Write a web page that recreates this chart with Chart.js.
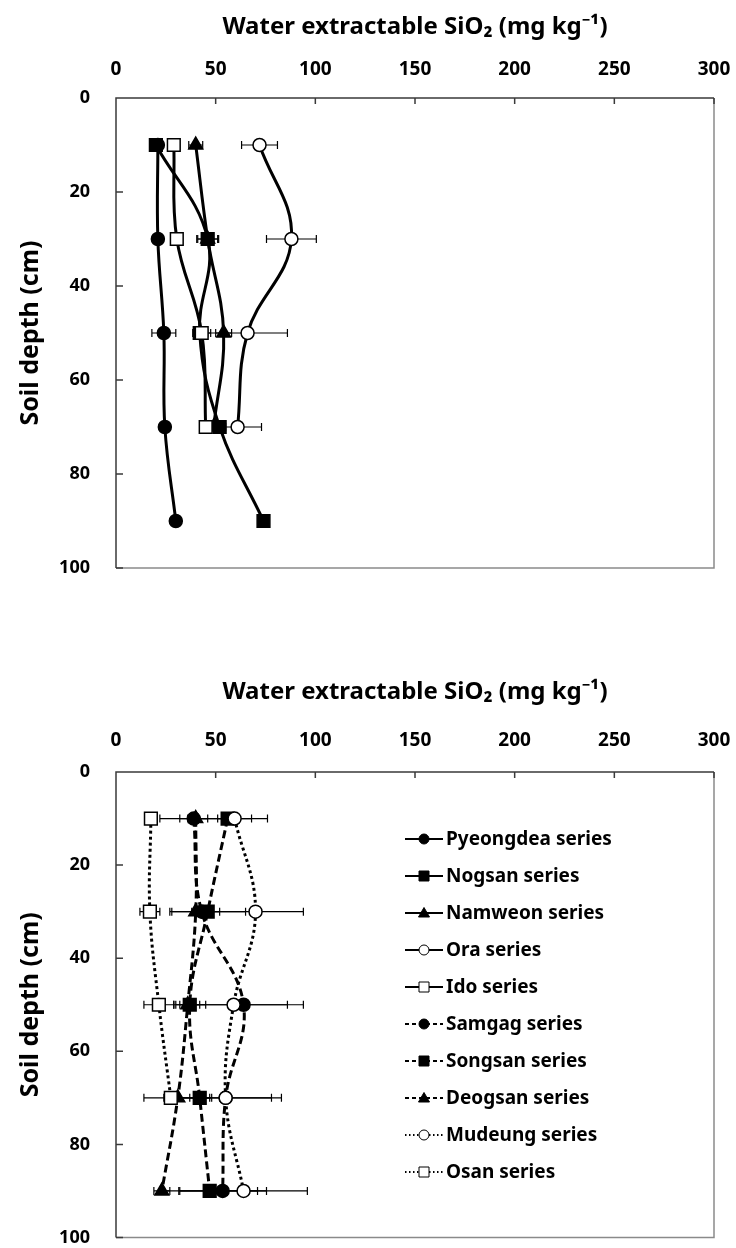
<!DOCTYPE html>
<html>
<head>
<meta charset="utf-8">
<title>Water extractable SiO2 by soil depth</title>
<script src="https://cdn.jsdelivr.net/npm/chart.js@4.4.1/dist/chart.umd.min.js"></script>
<style>
	html, body { margin: 0; padding: 0; background: #fff; }
	#wrap { position: relative; width: 736px; height: 1248px; overflow: hidden; }
	#topChart { position: absolute; left: 0; top: 0; }
	#bottomChart { position: absolute; left: 0; top: 674px; }
</style>
</head>
<body>
<div id="wrap">
	<canvas id="topChart" width="736" height="600"></canvas>
	<canvas id="bottomChart" width="736" height="574"></canvas>
</div>
<script>
// depths (cm) of the sampled layers, and axis ticks
var depths = [10, 30, 50, 70, 90];
var xTicks = [0, 50, 100, 150, 200, 250, 300];
var yTicks = [0, 20, 40, 60, 80, 100];
var xTitle = 'Water extractable SiO\u2082 (mg kg\u207B\u00B9)';
var yTitle = 'Soil depth (cm)';

// upper panel, mg/kg, with +/- error
var pyeongdea = [21, 21, 24, 24.5, 30];
var pyeongdeaErr = [2, 2, 6, 2, 2];
var nogsan = [20, 46, 42, 52, 74];
var nogsanErr = [2, 5.5, 3, 3, 2];
var namweon = [40, 46, 54, 49];
var namweonErr = [3.5, 5, 4, 3];
var ora = [72, 88, 66, 61];
var oraErr = [9, 12.5, 20, 12];
var ido = [29, 30.5, 43, 45];
var idoErr = [2, 2, 4.5, 3];

// lower panel
var samgag = [39, 43, 64, 55, 53.5];
var samgagErr = [7, 5, 30, 28, 22];
var songsan = [56, 46, 37, 42, 47];
var songsanErr = [20, 19, 8, 5, 24];
var deogsan = [40, 40, 36, 31, 23];
var deogsanErr = [18, 12, 6, 17, 4];
var mudeung = [59.5, 70, 59, 55, 64];
var mudeungErr = [8.5, 24, 27, 23, 32];
var osan = [17.5, 17, 21.5, 27.5];
var osanErr = [3, 5, 7.5, 3.5];

var FONT = "'Noto Sans', 'Open Sans', sans-serif";

function toPoints(values) {
	return values.map(function (v, i) {
		return {x: v, y: depths[i]};
	});
}

// marker/line look of each series
function series(label, values, errors, marker, filled, dash) {
	var r = marker === 'rect' ? 9 : (marker === 'triangle' ? 8 : 6.5);
	return {
		label: label,
		data: values ? toPoints(values) : [],
		errors: errors || [],
		showLine: true,
		tension: 0.4,
		borderColor: '#000',
		borderWidth: 3,
		borderDash: dash || [],
		pointStyle: marker,
		pointRadius: r,
		pointBorderWidth: 1.5,
		pointBorderColor: '#000',
		pointBackgroundColor: filled ? '#000' : '#fff',
		marker: marker,
		filled: filled
	};
}

var DASH = [8, 4];
var DOT = [3, 3];

var topSets = [
	series('Pyeongdea series', pyeongdea, pyeongdeaErr, 'circle', true),
	series('Nogsan series', nogsan, nogsanErr, 'rect', true),
	series('Namweon series', namweon, namweonErr, 'triangle', true),
	series('Ora series', ora, oraErr, 'circle', false),
	series('Ido series', ido, idoErr, 'rect', false)
];

var bottomSets = [
	series('Pyeongdea series', null, null, 'circle', true),
	series('Nogsan series', null, null, 'rect', true),
	series('Namweon series', null, null, 'triangle', true),
	series('Ora series', null, null, 'circle', false),
	series('Ido series', null, null, 'rect', false),
	series('Samgag series', samgag, samgagErr, 'circle', true, DASH),
	series('Songsan series', songsan, songsanErr, 'rect', true, DASH),
	series('Deogsan series', deogsan, deogsanErr, 'triangle', true, DASH),
	series('Mudeung series', mudeung, mudeungErr, 'circle', false, DOT),
	series('Osan series', osan, osanErr, 'rect', false, DOT)
];

// later series on top, as in the spreadsheet
[topSets, bottomSets].forEach(function (sets) {
	sets.forEach(function (ds, i) { ds.order = -i; });
});

// frame round the plot and the small inner ticks
var framePlugin = {
	id: 'frame',
	beforeDatasetsDraw: function (chart) {
		var ctx = chart.ctx, a = chart.chartArea;
		var xs = chart.scales.x, ys = chart.scales.y;
		ctx.save();
		ctx.lineWidth = 1.5;
		ctx.strokeStyle = '#8a8a8a';
		ctx.beginPath();
		ctx.moveTo(a.right, a.top);
		ctx.lineTo(a.right, a.bottom);
		ctx.lineTo(a.left, a.bottom);
		ctx.stroke();
		ctx.strokeStyle = '#3a3a3a';
		ctx.beginPath();
		ctx.moveTo(a.left, a.bottom);
		ctx.lineTo(a.left, a.top);
		ctx.lineTo(a.right, a.top);
		xTicks.forEach(function (v) {
			var px = xs.getPixelForValue(v);
			ctx.moveTo(px, a.top);
			ctx.lineTo(px, a.top + 6);
		});
		yTicks.forEach(function (v) {
			var py = ys.getPixelForValue(v);
			ctx.moveTo(a.left, py);
			ctx.lineTo(a.left + 7, py);
		});
		ctx.stroke();
		ctx.restore();
	}
};

// horizontal error bars, drawn under the lines and markers
var errorBarPlugin = {
	id: 'errorBars',
	beforeDatasetsDraw: function (chart) {
		var ctx = chart.ctx, xs = chart.scales.x, ys = chart.scales.y;
		ctx.save();
		ctx.strokeStyle = '#000';
		ctx.lineWidth = 1.2;
		chart.data.datasets.forEach(function (ds) {
			ds.data.forEach(function (p, i) {
				var e = ds.errors[i];
				if (!e) return;
				var y = ys.getPixelForValue(p.y);
				var x0 = xs.getPixelForValue(p.x - e);
				var x1 = xs.getPixelForValue(p.x + e);
				ctx.beginPath();
				ctx.moveTo(x0, y);
				ctx.lineTo(x1, y);
				ctx.moveTo(x0, y - 4);
				ctx.lineTo(x0, y + 4);
				ctx.moveTo(x1, y - 4);
				ctx.lineTo(x1, y + 4);
				ctx.stroke();
			});
		});
		ctx.restore();
	}
};

function drawMarker(ctx, marker, filled, x, y, r) {
	ctx.beginPath();
	if (marker === 'circle') {
		ctx.arc(x, y, r, 0, Math.PI * 2);
	} else if (marker === 'rect') {
		ctx.rect(x - r, y - r, r * 2, r * 2);
	} else {
		ctx.moveTo(x, y - r * 1.1);
		ctx.lineTo(x + r * 1.1, y + r * 0.8);
		ctx.lineTo(x - r * 1.1, y + r * 0.8);
		ctx.closePath();
	}
	ctx.fillStyle = filled ? '#000' : '#fff';
	ctx.fill();
	ctx.lineWidth = 1;
	ctx.strokeStyle = '#000';
	ctx.stroke();
}

// legend sitting inside the lower plot
var insideLegendPlugin = {
	id: 'insideLegend',
	afterDraw: function (chart, args, opts) {
		if (!opts.show) return;
		var ctx = chart.ctx;
		ctx.save();
		ctx.font = 'bold 19px ' + FONT;
		ctx.textBaseline = 'middle';
		chart.data.datasets.forEach(function (ds, i) {
			var y = opts.top + i * opts.rowGap;
			var x = opts.left;
			ctx.strokeStyle = '#000';
			ctx.lineWidth = 2;
			ctx.setLineDash(ds.borderDash.length ? [ds.borderDash[0] / 2, ds.borderDash[1] / 2 + 1] : []);
			ctx.beginPath();
			ctx.moveTo(x, y);
			ctx.lineTo(x + opts.sample, y);
			ctx.stroke();
			ctx.setLineDash([]);
			drawMarker(ctx, ds.marker, ds.filled, x + opts.sample / 2, y, 5);
			ctx.fillStyle = '#000';
			ctx.fillText(ds.label, x + opts.sample + 3, y + 1);
		});
		ctx.restore();
	}
};

function makeChart(canvasId, datasets, cfg) {
	return new Chart(document.getElementById(canvasId), {
		type: 'scatter',
		data: {datasets: datasets},
		options: {
			responsive: false,
			animation: false,
			events: [],
			layout: {padding: {left: 0, right: 22, top: 0, bottom: cfg.bottomPad}},
			plugins: {
				legend: {display: false},
				tooltip: {enabled: false},
				insideLegend: cfg.legend
			},
			scales: {
				x: {
					type: 'linear',
					position: 'top',
					min: 0,
					max: 300,
					ticks: {stepSize: 50, color: '#000', padding: cfg.tickPad, font: {family: FONT, size: 19, weight: 'bold'}},
					grid: {display: false, drawTicks: false},
					border: {display: false},
					title: {display: true, text: xTitle, color: '#000', padding: {top: cfg.titlePad, bottom: 0}, font: {family: FONT, size: 24, weight: 'bold'}},
					afterFit: function (scale) {
						scale.height = 98;
						scale.paddingLeft = 0;
						scale.paddingRight = 0;
					}
				},
				y: {
					type: 'linear',
					reverse: true,
					min: 0,
					max: 100,
					ticks: {stepSize: 20, color: '#000', padding: 26, font: {family: FONT, size: 18, weight: 'bold'}},
					grid: {display: false, drawTicks: false},
					border: {display: false},
					title: {display: true, text: yTitle, color: '#000', padding: {top: 16, bottom: 0}, font: {family: FONT, size: 25, weight: 'bold'}},
					afterFit: function (scale) {
						scale.width = 116;
						scale.paddingTop = 0;
						scale.paddingBottom = 0;
					}
				}
			}
		},
		plugins: [framePlugin, errorBarPlugin, insideLegendPlugin]
	});
}

makeChart('topChart', topSets, {bottomPad: 32, tickPad: 17, titlePad: 13, legend: {show: false}});
makeChart('bottomChart', bottomSets, {bottomPad: 8, tickPad: 20, titlePad: 4,
	legend: {show: true, left: 405, top: 165, rowGap: 37, sample: 38}});
</script>
</body>
</html>
